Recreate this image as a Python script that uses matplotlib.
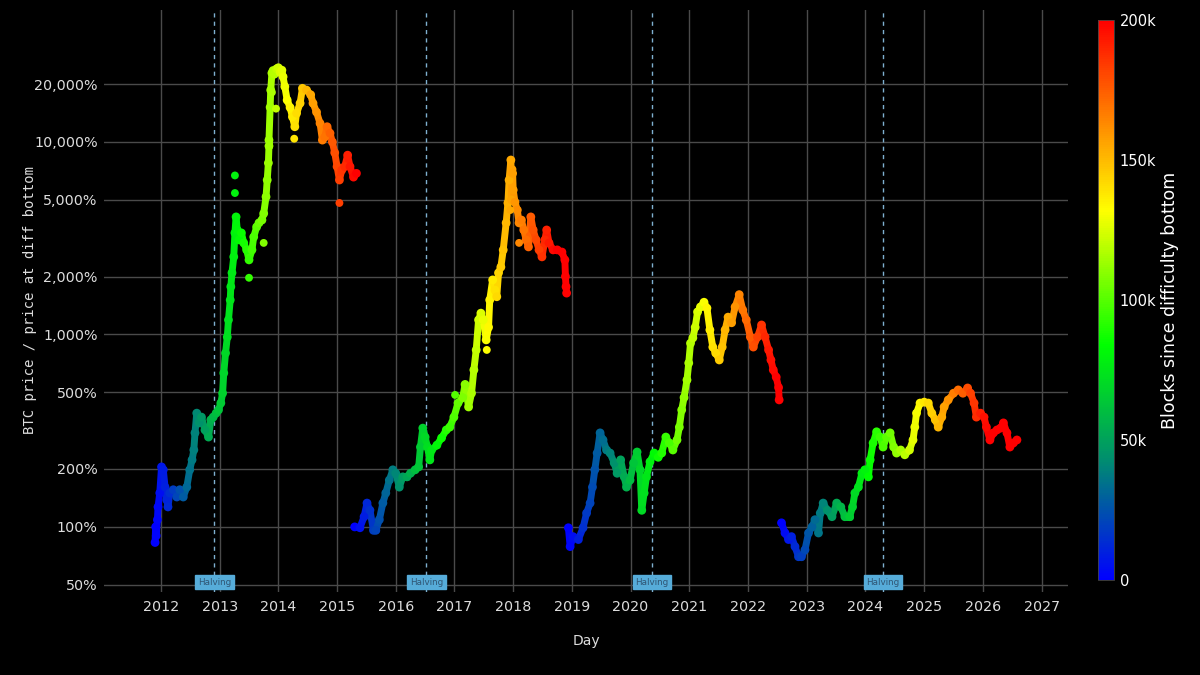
import matplotlib
matplotlib.use("Agg")
import matplotlib.pyplot as plt
import numpy as np
from matplotlib.colors import LinearSegmentedColormap, Normalize
from matplotlib.collections import LineCollection
from matplotlib.ticker import FixedLocator, FuncFormatter
import matplotlib.transforms as mtransforms

# ---------------- data (decimal year, % of price at difficulty bottom) ----------------
c1_year = [2011.90, 2011.91, 2011.92, 2011.94, 2011.95, 2011.98, 2012.01, 2012.04, 2012.07, 2012.10,
           2012.12, 2012.15, 2012.21, 2012.27, 2012.32, 2012.38, 2012.44, 2012.49, 2012.53, 2012.56,
           2012.58, 2012.61, 2012.65, 2012.69, 2012.75, 2012.81, 2012.85, 2012.89, 2012.94, 2012.98,
           2013.02, 2013.05, 2013.07, 2013.10, 2013.13, 2013.15, 2013.18, 2013.19, 2013.21, 2013.24,
           2013.26, 2013.28, 2013.30, 2013.33, 2013.37, 2013.41, 2013.46, 2013.50,
           2013.55, 2013.58, 2013.63, 2013.67, 2013.72, 2013.75, 2013.79, 2013.81,
           2013.83, 2013.84, 2013.84, 2013.86, 2013.87, 2013.89, 2013.91, 2013.93,
           2013.97, 2014.00, 2014.03, 2014.06, 2014.08, 2014.11, 2014.15, 2014.20, 2014.24,
           2014.28, 2014.31, 2014.37, 2014.41, 2014.48, 2014.55, 2014.59, 2014.65, 2014.71, 2014.75,
           2014.79, 2014.83, 2014.88, 2014.92, 2014.96, 2015.00, 2015.04, 2015.08, 2015.13,
           2015.18, 2015.22, 2015.28, 2015.33]
c1_pct = [83, 100, 90, 109, 127, 150, 205, 198, 161, 138,
          127, 150, 156, 143, 156, 143, 161, 198, 223, 251,
          308, 390, 347, 372, 319, 293, 360, 372, 390, 405,
          440, 495, 630, 800, 970, 1190, 1510, 1770, 2090, 2530,
          3370, 4080, 3490, 3100, 3370, 2990, 2750, 2440,
          2750, 3210, 3620, 3800, 3930, 4250, 5190, 6345,
          7780, 9530, 10230, 15150, 18600, 22800, 23500, 22500,
          24000, 24300, 23000, 23600, 21800, 19400, 16500, 15100, 13500,
          12000, 14100, 15900, 19000, 18600, 17600, 15900, 14300, 12500, 10230,
          10600, 12000, 11100, 10000, 8800, 7450, 6345, 7150, 7450,
          8540, 7450, 6570, 6870]
c1_out_year = [2013.26, 2013.26, 2013.50, 2013.75, 2013.89, 2013.96, 2014.27, 2015.04]
c1_out_pct = [6700, 5430, 1970, 2990, 18100, 14900, 10400, 4820]

c2_year = [2015.30, 2015.39, 2015.46, 2015.51, 2015.56, 2015.62, 2015.66, 2015.72, 2015.78, 2015.83,
           2015.89, 2015.95, 2016.00, 2016.06, 2016.12, 2016.19, 2016.25, 2016.33, 2016.39, 2016.42,
           2016.46, 2016.50, 2016.54, 2016.58, 2016.61, 2016.70, 2016.78, 2016.86, 2016.92, 2016.99,
           2017.06, 2017.14, 2017.18, 2017.24, 2017.29, 2017.33, 2017.37, 2017.41, 2017.45,
           2017.49, 2017.54, 2017.58, 2017.60, 2017.65, 2017.69, 2017.72, 2017.75, 2017.79,
           2017.83, 2017.88, 2017.91, 2017.93, 2017.96, 2017.97, 2017.98, 2017.99, 2018.00,
           2018.03, 2018.07, 2018.10, 2018.14, 2018.18, 2018.22, 2018.26, 2018.30, 2018.34,
           2018.39, 2018.44, 2018.49, 2018.54, 2018.57, 2018.61, 2018.68, 2018.75, 2018.83, 2018.88,
           2018.89, 2018.90, 2018.91]
c2_pct = [100, 99, 113, 133, 122, 96, 96, 109, 133, 150,
          175, 198, 190, 161, 182, 182, 190, 198, 205, 260,
          326, 293, 260, 223, 251, 266, 290, 319, 330, 372,
          440, 470, 550, 420, 495, 654, 831, 1190, 1290,
          1190, 937, 1090, 1510, 1920, 1700, 1570, 2090, 2240,
          2750, 3800, 4820, 6345, 8060, 5000, 7200, 6870, 5630,
          4870, 4430, 3800, 3930, 3490, 3100, 2850, 4080, 3490,
          3100, 2750, 2530, 3100, 3490, 2990, 2750, 2750, 2680, 2440,
          2000, 1770, 1640]
c2_out_year = [2016.58, 2017.01, 2017.55, 2017.95, 2018.10]
c2_out_pct = [223, 485, 831, 4430, 2990]

c3_year = [2018.94, 2018.97, 2019.02, 2019.11, 2019.19, 2019.25, 2019.31, 2019.35, 2019.39, 2019.43,
           2019.48, 2019.53, 2019.59, 2019.65, 2019.72, 2019.77, 2019.83, 2019.89, 2019.93, 2019.99,
           2020.05, 2020.11, 2020.16, 2020.19, 2020.23, 2020.27, 2020.33, 2020.40, 2020.47, 2020.53,
           2020.60, 2020.66, 2020.72, 2020.79, 2020.83, 2020.87, 2020.91, 2020.96, 2020.99, 2021.02,
           2021.06, 2021.10, 2021.14, 2021.19, 2021.25, 2021.30, 2021.35, 2021.40, 2021.45, 2021.51,
           2021.56, 2021.61, 2021.66, 2021.72, 2021.78, 2021.85, 2021.91, 2021.97, 2022.04, 2022.09,
           2022.16, 2022.23, 2022.29, 2022.35, 2022.39, 2022.43, 2022.48, 2022.52, 2022.53]
c3_pct = [99, 79, 89, 86, 99, 118, 133, 161, 198, 242,
          308, 283, 251, 242, 215, 190, 223, 182, 161, 175,
          215, 245, 198, 122, 150, 182, 218, 242, 230, 242,
          293, 273, 251, 283, 330, 405, 470, 580, 710, 900,
          960, 1090, 1310, 1390, 1470, 1370, 1056, 860, 800, 737,
          860, 1056, 1230, 1150, 1390, 1610, 1340, 1190, 970, 860,
          970, 1120, 970, 831, 737, 654, 600, 530, 457]
c3_out_year = []
c3_out_pct = []

c4_year = [2022.57, 2022.63, 2022.69, 2022.74, 2022.80, 2022.86, 2022.91, 2022.97, 2023.03, 2023.09,
           2023.14, 2023.20, 2023.23, 2023.28, 2023.35, 2023.43, 2023.51, 2023.58, 2023.65, 2023.73,
           2023.78, 2023.82, 2023.88, 2023.94, 2023.99, 2024.05, 2024.08, 2024.13, 2024.19, 2024.25,
           2024.30, 2024.36, 2024.42, 2024.48, 2024.53, 2024.60, 2024.67, 2024.75, 2024.81, 2024.84,
           2024.87, 2024.93, 2025.00, 2025.07, 2025.13, 2025.19, 2025.24, 2025.30, 2025.34, 2025.41,
           2025.50, 2025.58, 2025.66, 2025.74, 2025.79, 2025.85, 2025.89, 2025.96, 2026.02, 2026.06,
           2026.12, 2026.18, 2026.24, 2026.30, 2026.35, 2026.41, 2026.46, 2026.52, 2026.58]
c4_pct = [105, 93, 86, 89, 79, 70, 70, 76, 93, 100,
          109, 93, 118, 133, 122, 113, 133, 127, 113, 113,
          127, 150, 161, 190, 198, 182, 223, 273, 312, 293,
          260, 293, 308, 260, 242, 251, 237, 251, 283, 330,
          390, 440, 445, 440, 390, 360, 330, 372, 420, 457,
          495, 515, 495, 527, 495, 440, 372, 390, 372, 330,
          283, 308, 319, 326, 347, 308, 260, 273, 283]
c4_out_year = []
c4_out_pct = []

# approximate block production rate per cycle (blocks per day)
blocks_per_day = [160, 160, 155, 155]

halving_year = [2012.91, 2016.52, 2020.36, 2024.30]
halving_label = "Halving"

y_ticks = [50, 100, 200, 500, 1000, 2000, 5000, 10000, 20000]
x_ticks = list(range(2012, 2028))
cbar_ticks = [0, 50000, 100000, 150000, 200000]
cbar_labels = ["0", "50k", "100k", "150k", "200k"]

# ---------------- figure ----------------
W, H = 1200, 675
fig = plt.figure(figsize=(12, 6.75), dpi=100, facecolor="black")
ax = fig.add_axes([104 / W, 1 - 592 / H, (1068 - 104) / W, (592 - 10) / H])
ax.set_facecolor("black")

cmap = LinearSegmentedColormap.from_list(
    "blocks",
    [(0.0, (0, 0, 1)), (0.22, (0, 0.57, 0.42)), (0.42, (0, 1, 0)),
     (0.66, (1, 1, 0)), (1.0, (1, 0, 0))])
norm = Normalize(vmin=0, vmax=200000)

ax.set_yscale("log")
ax.set_ylim(45.9, 48500)
ax.set_xlim(2011.03, 2027.45)

sc = None
cycles = [(c1_year, c1_pct, c1_out_year, c1_out_pct),
          (c2_year, c2_pct, c2_out_year, c2_out_pct),
          (c3_year, c3_pct, c3_out_year, c3_out_pct),
          (c4_year, c4_pct, c4_out_year, c4_out_pct)]
for (yrs, pct, oyrs, opct), rate in zip(cycles, blocks_per_day):
    yrs = np.array(yrs, dtype=float)
    pct = np.array(pct, dtype=float)
    start = yrs.min()
    blocks = (yrs - start) * 365.25 * rate
    # trail through the readings
    pts = np.column_stack([yrs, pct]).reshape(-1, 1, 2)
    segs = np.concatenate([pts[:-1], pts[1:]], axis=1)
    lc = LineCollection(segs, cmap=cmap, norm=norm, linewidths=5.0,
                        capstyle="round", joinstyle="round", zorder=3)
    lc.set_array((blocks[:-1] + blocks[1:]) / 2)
    ax.add_collection(lc)
    sc = ax.scatter(yrs, pct, c=blocks, cmap=cmap, norm=norm,
                    s=40, linewidths=0, zorder=4)
    if len(oyrs):
        oyrs = np.array(oyrs, dtype=float)
        ax.scatter(oyrs, opct, c=(oyrs - start) * 365.25 * rate, cmap=cmap, norm=norm,
                   s=32, linewidths=0, zorder=4)

ax.yaxis.set_major_locator(FixedLocator(y_ticks))
ax.yaxis.set_minor_locator(FixedLocator([]))
ax.yaxis.set_major_formatter(FuncFormatter(lambda v, p: f"{v:,.0f}%"))
ax.xaxis.set_major_locator(FixedLocator(x_ticks))
ax.xaxis.set_major_formatter(FuncFormatter(lambda v, p: f"{int(round(v))}"))

ax.grid(True, color="#4a4a4a", linewidth=1)
ax.set_axisbelow(True)
for sp in ax.spines.values():
    sp.set_visible(False)
ax.tick_params(axis="both", length=0, colors="#dddddd", labelsize=10.3)
ax.tick_params(axis="y", pad=4.5)
ax.tick_params(axis="x", pad=6)

# halvings
trans = mtransforms.blended_transform_factory(ax.transData, ax.transAxes)
for hx in halving_year:
    ax.axvline(hx, color="#7fb0d0", linewidth=1, linestyle=(0, (3, 3)), zorder=2)
    ax.text(hx, 0.017, halving_label, transform=trans, ha="center", va="center",
            fontsize=6.3, color="#2f5573", zorder=5,
            bbox=dict(boxstyle="square,pad=0.3", facecolor="#56acd9", edgecolor="#56acd9"))

# axis titles
fig.text(30 / W, 1 - 300 / H, "BTC price / price at diff bottom", rotation=90,
         ha="center", va="center", family="DejaVu Sans Mono", fontsize=10, color="#dddddd")
fig.text(586 / W, 1 - 641 / H, "Day", ha="center", va="center", fontsize=10, color="#dddddd")

# colorbar
cax = fig.add_axes([1098 / W, 1 - 580 / H, 16 / W, 560 / H])
cb = fig.colorbar(sc, cax=cax)
cb.outline.set_edgecolor("#444444")
cb.outline.set_linewidth(0.6)
cb.set_ticks(cbar_ticks)
cb.set_ticklabels(cbar_labels)
cax.tick_params(length=0, colors="white", labelsize=10.5, pad=4)
fig.text(1170 / W, 1 - 300 / H, "Blocks since difficulty bottom", rotation=90,
         ha="center", va="center", fontsize=12.5, color="white")

fig.savefig("out.png", dpi=100, facecolor="black")
